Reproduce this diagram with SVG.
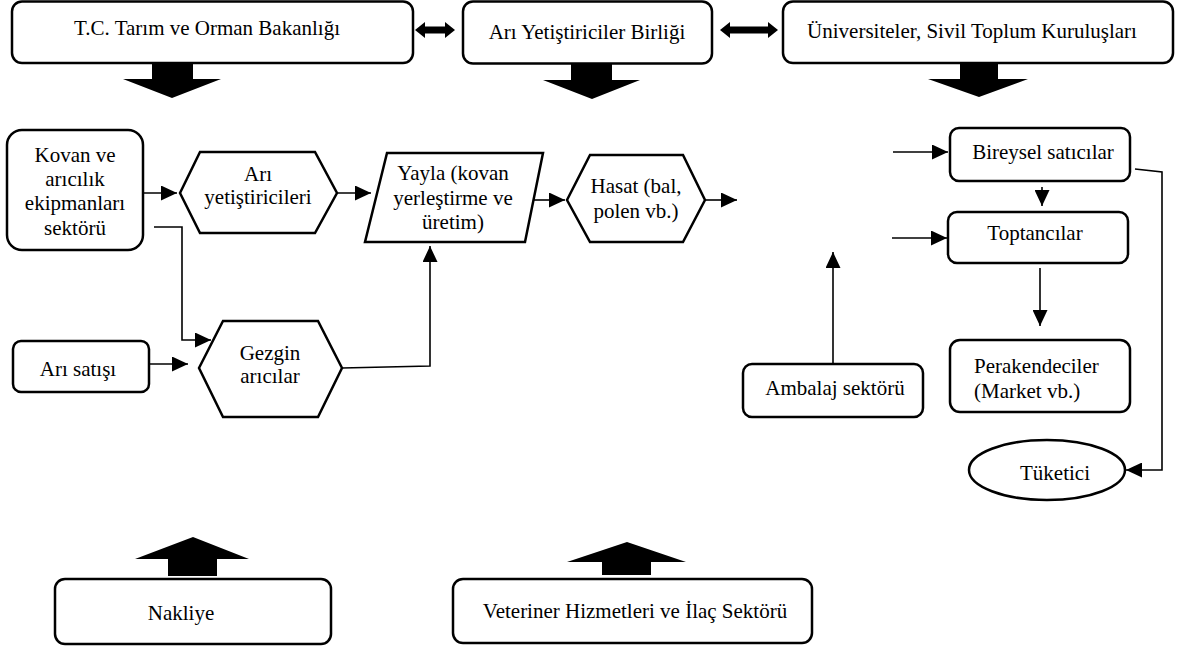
<svg xmlns="http://www.w3.org/2000/svg" width="1177" height="650" viewBox="0 0 1177 650">
<style>
.box{fill:#fff;stroke:#000;stroke-width:2.5}
text{font-family:'Liberation Serif','Tinos','DejaVu Serif',serif;font-size:21px;fill:#000}
.t{text-anchor:middle}
.ln{fill:none;stroke:#000;stroke-width:1.6;marker-end:url(#ah)}
.blk{fill:#000;stroke:none}
</style>
<defs>
<marker id="ah" markerUnits="userSpaceOnUse" markerWidth="16" markerHeight="15" refX="16" refY="7.5" orient="auto">
<path d="M0,0 L16,7.5 L0,15 z" fill="#000"/>
</marker>
</defs>
<rect width="1177" height="650" fill="#fff"/>

<g id="connectors">
<polygon class="blk" points="415,30 425,22 425,26.5 445,26.5 445,22 455,30 445,38 445,33.5 425,33.5 425,38"/>
<polygon class="blk" points="720,30 730,22 730,26.5 768,26.5 768,22 778,30 768,38 768,33.5 730,33.5 730,38"/>
<polygon class="blk" points="152,63 193,63 193,79 221,79 172,98 123,79 152,79"/>
<polygon class="blk" points="571,64 612,64 612,80 640,80 592,99 543,80 571,80"/>
<polygon class="blk" points="960,63 998,63 998,79 1028,79 979,97 928,79 960,79"/>
<polygon class="blk" points="168,576 217,576 217,559 249,559 193,537 135,559 168,559"/>
<polygon class="blk" points="602,575 651,575 651,562 686,562 627,542 567,562 602,562"/>
<path class="ln" d="M143,193 H177"/>
<path class="ln" d="M337,193 H371"/>
<path class="ln" d="M154,227 H182 V340 H211"/>
<path class="ln" d="M149,364 H188"/>
<path class="ln" d="M342,368 L430,366 V246"/>
<path class="ln" d="M533,200 H565"/>
<path class="ln" d="M705,200 H737"/>
<path class="ln" d="M893,152 H948"/>
<path class="ln" d="M1042,187 V206"/>
<path class="ln" d="M892,238 H947"/>
<path class="ln" d="M1040,268 V326"/>
<path class="ln" d="M1135,169 L1162,172 V470 H1126"/>
<path class="ln" d="M833,364 V252"/>
</g>

<g id="tarim">
<rect class="box" x="12" y="1.5" width="401" height="61.5" rx="10"/>
<text class="t" x="207" y="35">T.C. Tarım ve Orman Bakanlığı</text>
</g>
<g id="birlik">
<rect class="box" x="463" y="1.5" width="249" height="62" rx="10"/>
<text class="t" x="587" y="39">Arı Yetiştiriciler Birliği</text>
</g>
<g id="universite">
<rect class="box" x="783" y="1.5" width="390" height="61.5" rx="10"/>
<text class="t" x="972" y="38">Üniversiteler, Sivil Toplum Kuruluşları</text>
</g>

<g id="kovan">
<rect class="box" x="7" y="130" width="136" height="120" rx="15"/>
<text class="t" x="75" y="162">Kovan ve</text>
<text class="t" x="75" y="186">arıcılık</text>
<text class="t" x="75" y="210">ekipmanları</text>
<text class="t" x="75" y="235">sektörü</text>
</g>
<g id="ari-yetistiricileri">
<polygon class="box" points="180,193 200,152 315,152 337,193 315,233 200,233"/>
<text class="t" x="258" y="181">Arı</text>
<text class="t" x="258" y="204">yetiştiricileri</text>
</g>
<g id="yayla">
<polygon class="box" points="387,153 543,153 525,242 365,242"/>
<text class="t" x="453" y="180">Yayla (kovan</text>
<text class="t" x="453" y="205">yerleştirme ve</text>
<text class="t" x="453" y="229">üretim)</text>
</g>
<g id="hasat">
<polygon class="box" points="567,200 590,155 683,155 705,200 683,242 590,242"/>
<text class="t" x="636" y="193">Hasat (bal,</text>
<text class="t" x="636" y="218">polen vb.)</text>
</g>
<g id="ari-satisi">
<rect class="box" x="13" y="341" width="136" height="51" rx="8"/>
<text class="t" x="78" y="376">Arı satışı</text>
</g>
<g id="gezgin">
<polygon class="box" points="199,368 223,321 318,321 342,368 318,417 223,417"/>
<text class="t" x="270" y="360">Gezgin</text>
<text class="t" x="270" y="383">arıcılar</text>
</g>

<g id="bireysel">
<rect class="box" x="950" y="128" width="180" height="53" rx="9"/>
<text class="t" x="1043" y="159">Bireysel satıcılar</text>
</g>
<g id="toptancilar">
<rect class="box" x="948" y="212" width="180" height="51" rx="9"/>
<text class="t" x="1035" y="240">Toptancılar</text>
</g>
<g id="perakendeciler">
<rect class="box" x="950" y="340" width="180" height="72" rx="10"/>
<text x="974" y="373">Perakendeciler</text>
<text x="974" y="398">(Market vb.)</text>
</g>
<g id="ambalaj">
<rect class="box" x="743" y="364" width="180" height="53" rx="9"/>
<text class="t" x="835" y="395">Ambalaj sektörü</text>
</g>
<g id="tuketici">
<ellipse class="box" cx="1047" cy="470" rx="78" ry="30"/>
<text class="t" x="1055" y="480">Tüketici</text>
</g>

<g id="nakliye">
<rect class="box" x="55" y="579" width="276" height="65" rx="10"/>
<text class="t" x="181" y="620">Nakliye</text>
</g>
<g id="veteriner">
<rect class="box" x="453" y="579" width="359" height="64" rx="10"/>
<text class="t" x="635" y="618">Veteriner Hizmetleri ve İlaç Sektörü</text>
</g>
</svg>
